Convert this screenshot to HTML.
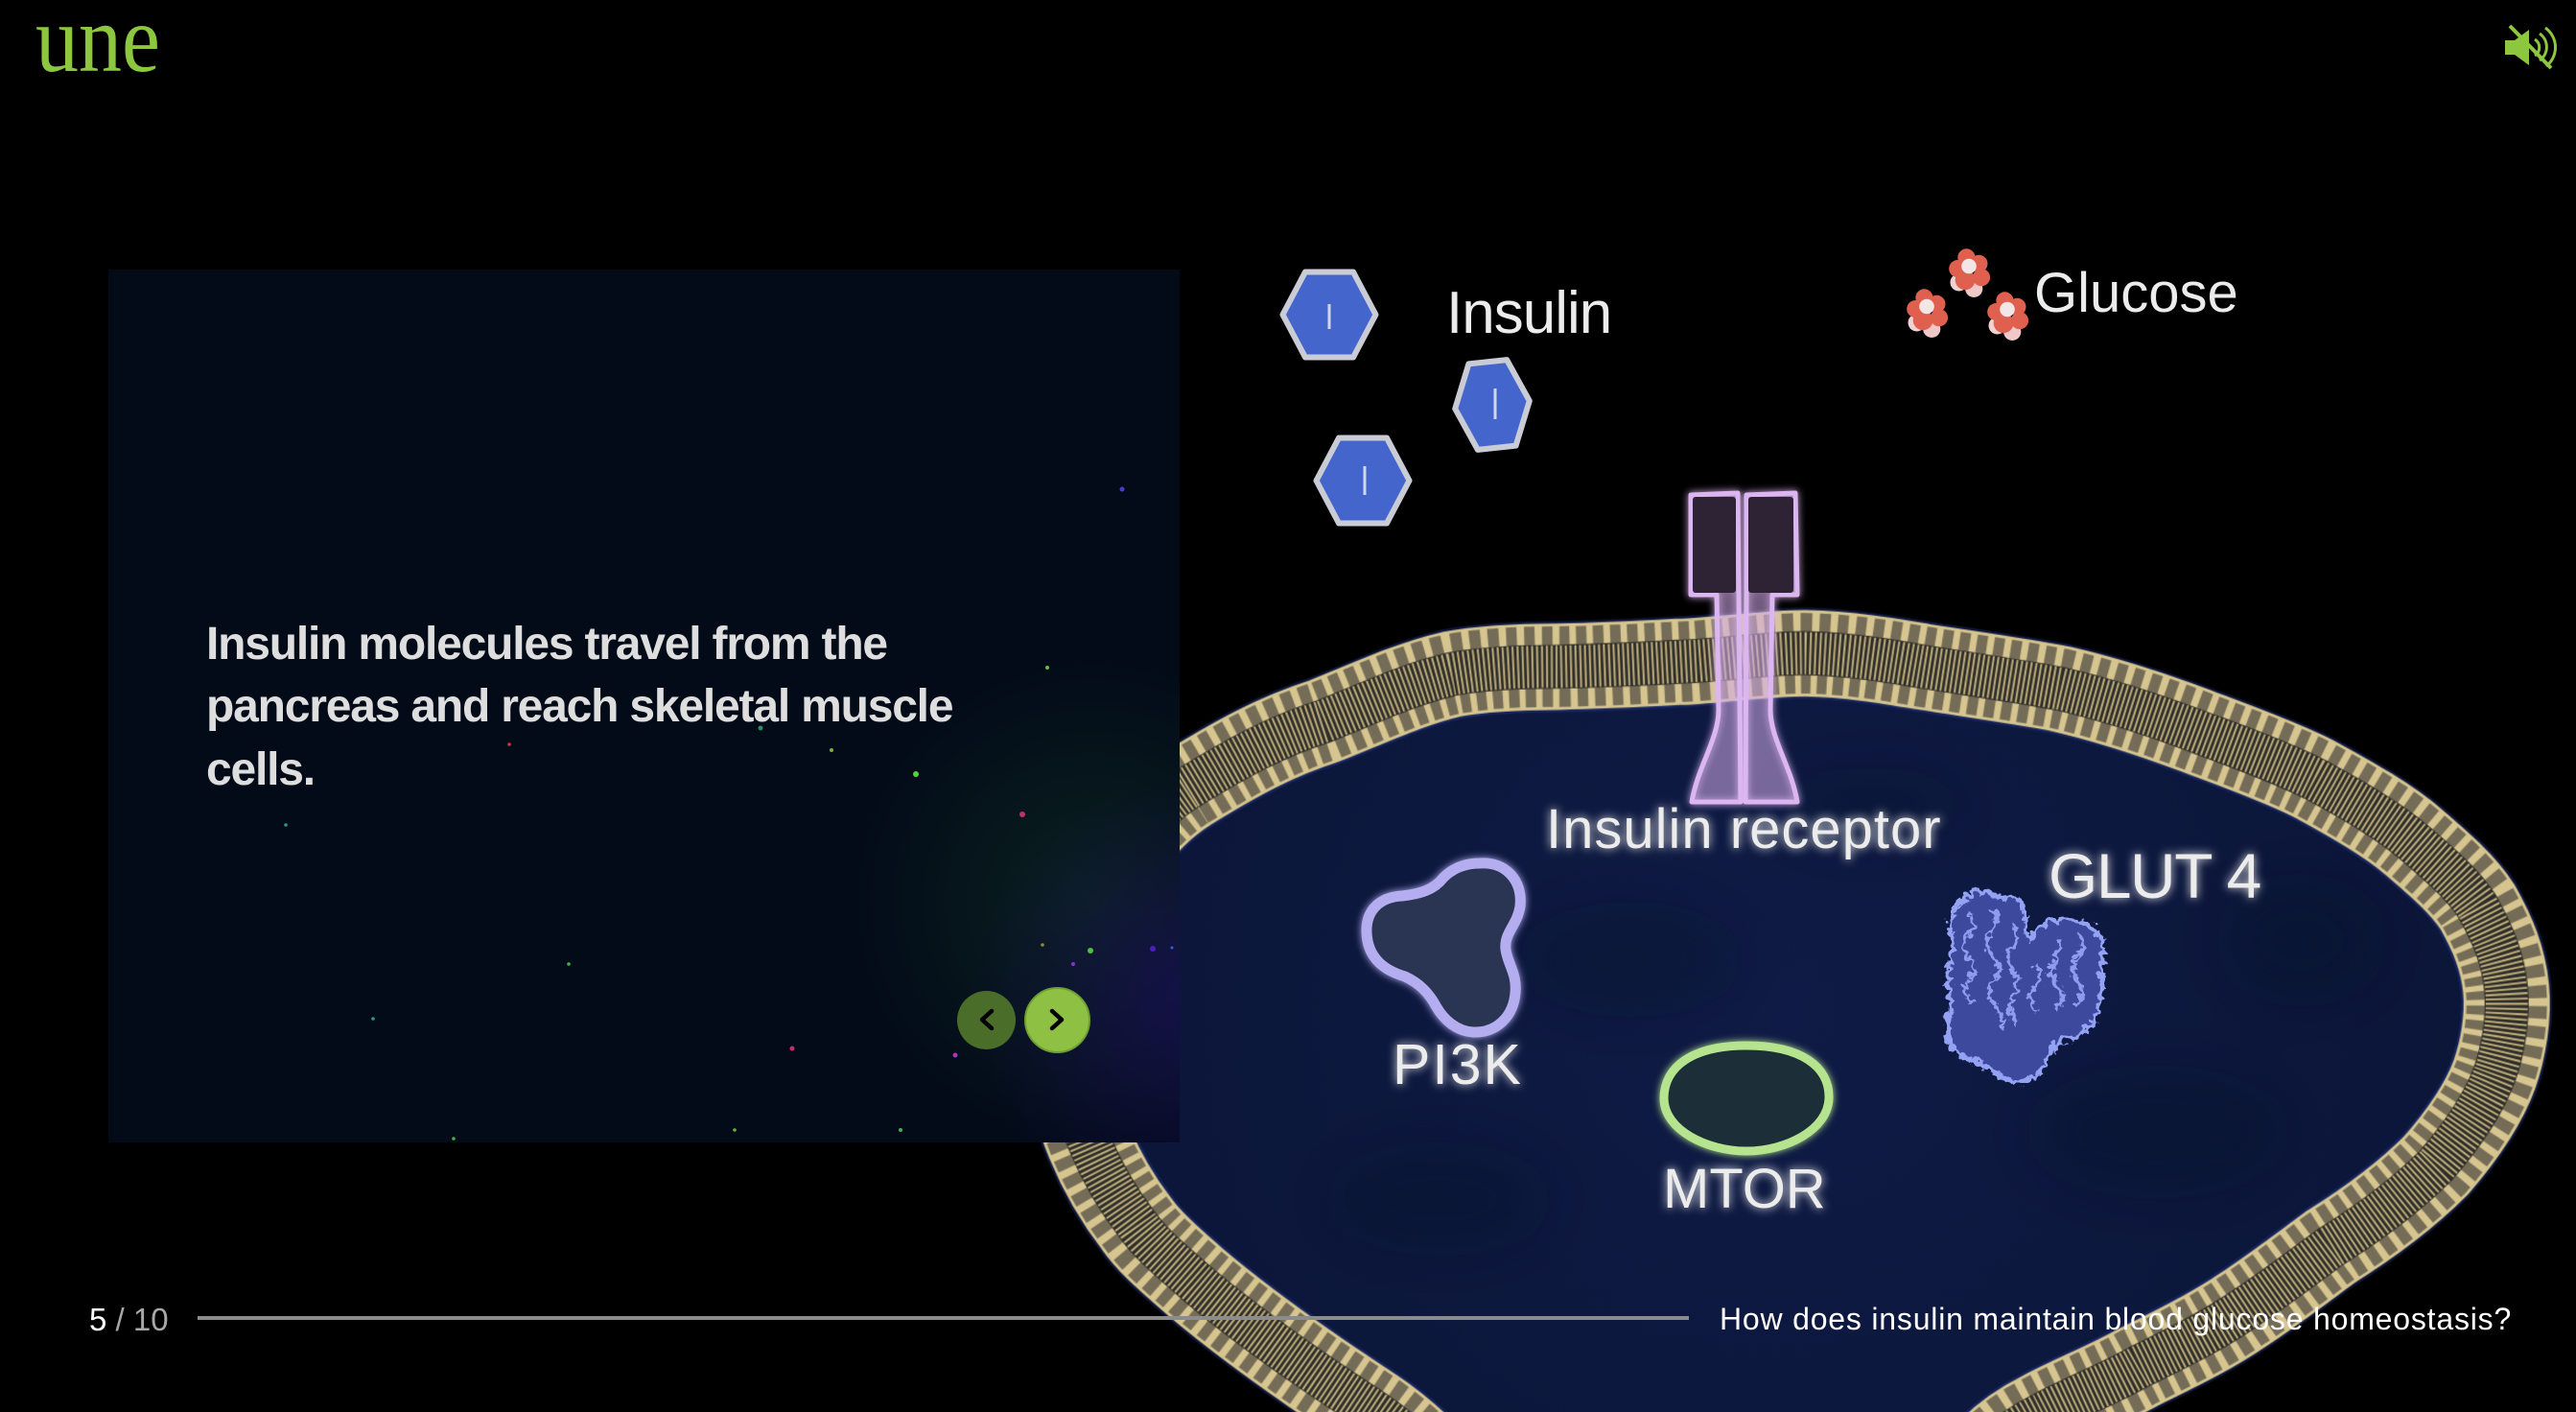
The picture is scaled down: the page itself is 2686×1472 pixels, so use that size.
<!DOCTYPE html>
<html>
<head>
<meta charset="utf-8">
<style>
  html, body { margin:0; padding:0; background:#000; width:2686px; height:1472px; overflow:hidden; }
  #wrap { position:relative; width:2686px; height:1472px; overflow:hidden; }
  svg { position:absolute; left:0; top:0; display:block; overflow:hidden; }
</style>
</head>
<body>
<div id="wrap">
<svg width="2686" height="1472" viewBox="0 0 2686 1472" xmlns="http://www.w3.org/2000/svg" font-family="Liberation Sans, DejaVu Sans, sans-serif">
  <defs>
    <filter id="glow" x="-20%" y="-40%" width="140%" height="180%">
      <feGaussianBlur in="SourceGraphic" stdDeviation="5" result="b"/>
      <feMerge><feMergeNode in="b"/><feMergeNode in="SourceGraphic"/></feMerge>
    </filter>
    <filter id="softglow" x="-30%" y="-30%" width="160%" height="160%">
      <feGaussianBlur in="SourceGraphic" stdDeviation="4" result="b"/>
      <feMerge><feMergeNode in="b"/><feMergeNode in="SourceGraphic"/></feMerge>
    </filter>
    <filter id="blur30" x="-50%" y="-50%" width="200%" height="200%">
      <feGaussianBlur stdDeviation="30"/>
    </filter>
    <filter id="crinkle" x="-15%" y="-15%" width="130%" height="130%">
      <feTurbulence type="turbulence" baseFrequency="0.09" numOctaves="2" seed="5" result="t"/>
      <feDisplacementMap in="SourceGraphic" in2="t" scale="12" xChannelSelector="R" yChannelSelector="G"/>
    </filter>
    <radialGradient id="cellg" gradientUnits="userSpaceOnUse" cx="1850" cy="1050" r="800">
      <stop offset="0" stop-color="#0f1b46"/>
      <stop offset="1" stop-color="#0b1537"/>
    </radialGradient>
    <radialGradient id="gGreen" gradientUnits="userSpaceOnUse" cx="1140" cy="940" r="250">
      <stop offset="0" stop-color="#0f3322" stop-opacity="0.55"/>
      <stop offset="1" stop-color="#0f3322" stop-opacity="0"/>
    </radialGradient>
    <radialGradient id="gPurple" gradientUnits="userSpaceOnUse" cx="1240" cy="1040" r="230">
      <stop offset="0" stop-color="#1a0f5a" stop-opacity="0.7"/>
      <stop offset="1" stop-color="#1a0f5a" stop-opacity="0"/>
    </radialGradient>
    <clipPath id="panelclip"><rect x="113" y="281" width="1117" height="910"/></clipPath>
    <path id="mem" d="M1238,822 C1290,790 1330,768 1380,752 C1430,732 1470,713 1513,703 C1550,696 1590,695 1626,695 C1680,694 1730,691 1769,689 C1810,686 1850,681 1882,681 C1930,682 1970,689 2005,695 C2055,703 2100,709 2148,718 C2200,730 2250,747 2290,762 C2335,779 2375,793 2413,812 C2455,835 2490,855 2517,878 C2545,902 2568,922 2583,945 C2600,975 2610,1000 2613,1030 C2616,1060 2610,1095 2601,1120 C2590,1150 2566,1185 2540,1215 C2510,1245 2470,1275 2430,1300 C2400,1322 2370,1345 2338,1366 C2300,1392 2260,1410 2230,1425 C2200,1442 2160,1458 2130,1474 C2090,1494 2060,1520 2040,1570 L1540,1570 C1500,1530 1473,1499 1433,1472 C1400,1450 1380,1437 1366,1427 C1320,1395 1280,1365 1247,1337 C1222,1315 1200,1297 1186,1277 C1165,1250 1148,1220 1136,1191 C1110,1130 1110,1050 1130,970 C1150,910 1190,852 1238,822 Z"/>
    <pattern id="cellPat" patternUnits="userSpaceOnUse" x="0" y="0" width="2800" height="1800">
      <use href="#mem" fill="url(#cellg)"/>
      <g opacity="0.25" filter="url(#blur30)">
        <ellipse cx="1700" cy="1000" rx="120" ry="60" fill="#050a1e"/>
        <ellipse cx="2250" cy="1180" rx="140" ry="70" fill="#050a1e"/>
        <ellipse cx="1950" cy="840" rx="100" ry="40" fill="#050a1e"/>
        <ellipse cx="1500" cy="1250" rx="120" ry="60" fill="#050a1e"/>
        <ellipse cx="2400" cy="980" rx="90" ry="70" fill="#050a1e"/>
      </g>
      <use href="#mem" fill="none" stroke="#1c3488" stroke-width="95" opacity="0.45"/>
      <use href="#mem" fill="none" stroke="#d6c58f" stroke-width="90"/>
      <use href="#mem" fill="none" stroke="#746c56" stroke-width="84" stroke-dasharray="11 7"/>
      <use href="#mem" fill="none" stroke="#2e2c2a" stroke-width="46"/>
      <use href="#mem" fill="none" stroke="#c2b27c" stroke-width="44" stroke-dasharray="2 3"/>
    </pattern>
  </defs>

  <rect x="0" y="0" width="2686" height="1472" fill="#000"/>

  <!-- Logo -->
  <text x="37" y="74" font-size="100" fill="#8dc63f" font-family="Liberation Serif, serif" transform="translate(37 0) scale(0.9 1) translate(-37 0)">une</text>

  <!-- Sound icon -->
  <g fill="#8dc63f" stroke="#8dc63f">
    <rect x="2612" y="42" width="10" height="15" stroke="none"/>
    <polygon points="2622,42 2637,31 2637,68 2622,57" stroke="none"/>
    <path d="M2643,41 A10,10 0 0 1 2643,58" fill="none" stroke-width="3"/>
    <path d="M2648,35 A17,17 0 0 1 2648,63" fill="none" stroke-width="3"/>
    <path d="M2654,29 A25,25 0 0 1 2655,69" fill="none" stroke-width="3"/>
    <line x1="2617" y1="27" x2="2660" y2="71" stroke-width="4"/>
  </g>

  <!-- Cell + membrane (via pattern, clipped to frame) -->
  <rect x="0" y="0" width="2686" height="1472" fill="url(#cellPat)"/>

  <!-- Insulin receptor -->
  <g filter="url(#softglow)">
    <path d="M1763,516 L1812,514 L1813,620 L1815,836 L1764,836 C1770,800 1792,770 1792,740 L1790,620 L1763,620 Z" fill="rgba(210,170,232,0.32)" stroke="#dcb6f0" stroke-width="5" stroke-linejoin="round"/>
    <path d="M1821,516 L1872,514 L1874,620 L1848,620 L1846,740 C1846,770 1868,800 1874,836 L1820,836 L1821,620 Z" fill="rgba(210,170,232,0.32)" stroke="#dcb6f0" stroke-width="5" stroke-linejoin="round"/>
    <rect x="1765" y="518" width="45" height="100" rx="3" fill="#2e2335"/>
    <rect x="1823" y="518" width="47" height="100" rx="3" fill="#2e2335"/>
  </g>

  <!-- PI3K -->
  <path d="M1543,900 C1570,898 1588,918 1585,945 C1582,965 1568,972 1570,990 C1572,1005 1582,1015 1580,1035 C1578,1060 1560,1077 1536,1076 C1518,1075 1505,1062 1498,1050 C1490,1035 1480,1025 1465,1018 C1445,1012 1426,1000 1425,972 C1424,948 1440,935 1462,934 C1480,932 1495,928 1505,915 C1515,905 1528,900 1543,900 Z" fill="#2a3452" stroke="#b4aef0" stroke-width="11" filter="url(#softglow)"/>

  <!-- MTOR -->
  <path d="M1821,1090 C1878,1090 1908,1112 1907,1145 C1906,1178 1862,1200 1821,1200 C1780,1200 1735,1178 1735,1145 C1735,1112 1765,1090 1821,1090 Z" fill="#1c2f38" stroke="#b6e48e" stroke-width="9" filter="url(#softglow)"/>

  <!-- GLUT4 -->
  <g filter="url(#crinkle)">
    <path d="M2040,940 C2050,928 2062,922 2075,930 C2088,935 2098,928 2104,938 C2110,950 2108,965 2114,975 C2122,965 2130,956 2145,957 C2160,952 2180,960 2188,975 C2194,995 2186,1010 2188,1030 C2190,1050 2178,1068 2162,1078 C2150,1082 2142,1080 2136,1092 C2130,1108 2120,1124 2104,1124 C2090,1126 2080,1115 2066,1108 C2050,1100 2032,1096 2028,1078 C2024,1060 2034,1045 2030,1025 C2026,1005 2036,995 2032,978 C2028,962 2032,948 2040,940 Z" fill="#3c4a9c" stroke="#94a2f4" stroke-width="5"/>
    <g fill="none" stroke="#8e9cf0" stroke-width="4">
      <path d="M2050,950 q12,10 0,22 q-12,12 0,24 q12,12 0,24 q-10,12 4,24"/>
      <path d="M2075,945 q10,12 -2,24 q-10,12 2,26 q12,12 0,26 q-10,12 4,28 q10,10 4,20"/>
      <path d="M2095,960 q8,14 -2,26 q-8,12 4,24 q10,14 -2,28 q-6,14 6,26"/>
      <path d="M2140,975 q10,12 0,24 q-10,12 2,24 q10,12 -2,26"/>
      <path d="M2165,972 q8,12 -2,24 q-10,14 2,26 q8,12 -4,24"/>
      <path d="M2120,1000 q8,14 -2,26 q-8,12 2,24"/>
    </g>
  </g>

  <!-- Labels inside cell -->
  <g fill="#ececec" filter="url(#glow)">
    <text x="1612" y="884" font-size="58" letter-spacing="1">Insulin receptor</text>
    <text x="2136" y="936" font-size="66" letter-spacing="-1.5">GLUT 4</text>
    <text x="1452" y="1130" font-size="59" letter-spacing="2">PI3K</text>
    <text x="1734" y="1259" font-size="58">MTOR</text>
  </g>

  <!-- Insulin hexagons -->
  <g stroke="#c9ccd4" stroke-width="6" stroke-linejoin="round" fill="#4466cc">
    <polygon points="1337.5,328 1361,283.5 1411,283.5 1434.5,328 1411,372.5 1361,372.5"/>
    <polygon points="1517,422 1536,377 1576,377 1595,422 1576,467 1536,467" transform="rotate(-6 1556 422)"/>
    <polygon points="1372.5,501 1396,456.5 1446,456.5 1469.5,501 1446,545.5 1396,545.5"/>
  </g>
  <g stroke="#d2d6ea" stroke-width="3">
    <line x1="1386" y1="317" x2="1386" y2="343"/>
    <line x1="1559" y1="405" x2="1559" y2="437"/>
    <line x1="1423" y1="486" x2="1423" y2="516"/>
  </g>

  <!-- Glucose clusters -->
  <g id="gl1" transform="translate(2053 284) scale(1.3)">
    <circle cx="-8" cy="8" r="7" fill="#f0d2d2"/>
    <circle cx="4" cy="13" r="7" fill="#efc8c8"/>
    <circle cx="-9" cy="-3" r="7" fill="#e0604f"/>
    <circle cx="8" cy="-7" r="7" fill="#e0604f"/>
    <circle cx="-2" cy="-12" r="7" fill="#e0604f"/>
    <circle cx="10" cy="4" r="7" fill="#e0604f"/>
    <circle cx="-3" cy="6" r="8" fill="#e0604f"/>
    <circle cx="0" cy="-5" r="6" fill="#f3e6e6"/>
  </g>
  <use href="#gl1" transform="translate(-44 42)"/>
  <use href="#gl1" transform="translate(40 45)"/>

  <!-- Top labels -->
  <g fill="#ececec">
    <text x="1508" y="347" font-size="62" letter-spacing="-1">Insulin</text>
    <text x="2121" y="325" font-size="58">Glucose</text>
  </g>

  <!-- Panel -->
  <rect x="113" y="281" width="1117" height="910" fill="#030b19"/>
  <g clip-path="url(#panelclip)">
    <rect x="113" y="281" width="1117" height="910" fill="url(#gGreen)"/>
    <rect x="113" y="281" width="1117" height="910" fill="url(#gPurple)"/>
    <circle cx="1170" cy="510" r="2.5" fill="#4a3ad0"/>
    <circle cx="1092" cy="696" r="2" fill="#5cc04a"/>
    <circle cx="955" cy="807" r="3" fill="#55d040"/>
    <circle cx="867" cy="782" r="2" fill="#7ab040"/>
    <circle cx="793" cy="759" r="2.5" fill="#2a8a6a"/>
    <circle cx="531" cy="776" r="1.8" fill="#c04030"/>
    <circle cx="406" cy="751" r="1.5" fill="#7030c0"/>
    <circle cx="1066" cy="849" r="3" fill="#c0306a"/>
    <circle cx="1087" cy="985" r="1.8" fill="#8a9030"/>
    <circle cx="1137" cy="991" r="3" fill="#50c040"/>
    <circle cx="1119" cy="1005" r="2" fill="#8a30d0"/>
    <circle cx="1202" cy="989" r="3" fill="#4a20c0"/>
    <circle cx="1222" cy="988" r="1.5" fill="#3060e0"/>
    <circle cx="996" cy="1100" r="2.5" fill="#b030c0"/>
    <circle cx="298" cy="860" r="1.8" fill="#2a9a7a"/>
    <circle cx="593" cy="1005" r="1.8" fill="#40b050"/>
    <circle cx="389" cy="1062" r="1.8" fill="#2a9a8a"/>
    <circle cx="826" cy="1093" r="2.5" fill="#c03070"/>
    <circle cx="473" cy="1187" r="1.8" fill="#40b050"/>
    <circle cx="766" cy="1178" r="1.8" fill="#6ab040"/>
    <circle cx="939" cy="1178" r="2" fill="#40b050"/>
  </g>

  <!-- Panel text -->
  <g fill="#dedede" font-size="48" font-weight="bold" letter-spacing="-1.2">
    <text x="215" y="687">Insulin molecules travel from the</text>
    <text x="215" y="752">pancreas and reach skeletal muscle</text>
    <text x="215" y="818">cells.</text>
  </g>

  <!-- Nav buttons -->
  <circle cx="1028.5" cy="1063.5" r="30.5" fill="#4a6e2a"/>
  <polyline points="1034,1054 1024,1063 1034,1072" fill="none" stroke="#000" stroke-width="4.5" stroke-linecap="round" stroke-linejoin="round"/>
  <circle cx="1102.5" cy="1063.5" r="33.5" fill="#8dc043" stroke="#6e9f32" stroke-width="2"/>
  <polyline points="1097,1054 1107,1063 1097,1072" fill="none" stroke="#000" stroke-width="4.5" stroke-linecap="round" stroke-linejoin="round"/>

  <!-- Bottom bar -->
  <text x="93" y="1387" font-size="33"><tspan fill="#ffffff">5</tspan><tspan fill="#a8a8a8"> / 10</tspan></text>
  <rect x="206" y="1372" width="1555" height="4" fill="#8c8c8c"/>
  <text x="1793" y="1386" font-size="32" letter-spacing="0.8" fill="#ffffff">How does insulin maintain blood glucose homeostasis?</text>
</svg>
</div>
</body>
</html>
